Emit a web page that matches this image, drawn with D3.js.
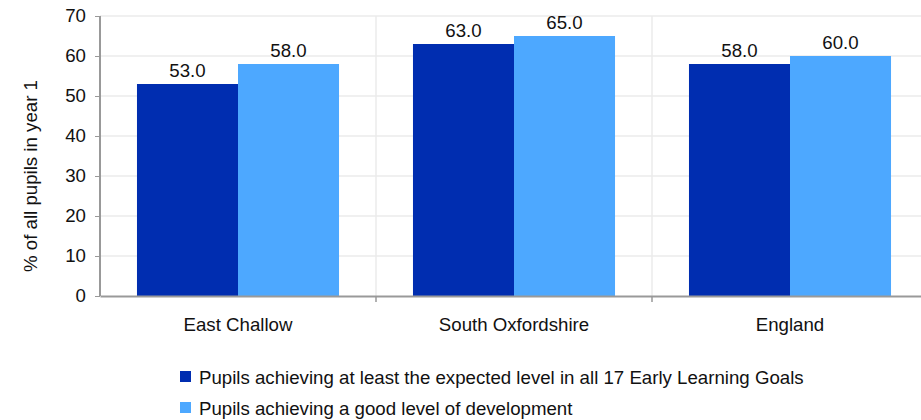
<!DOCTYPE html>
<html>
<head>
<meta charset="utf-8">
<script src="https://cdn.jsdelivr.net/npm/d3@7"></script>
<style>
  body { margin: 0; background: #fff; }
  text { font-family: "Liberation Sans", Arial, sans-serif; fill: #111; }
</style>
</head>
<body>
<div class="chart"></div>
<script>
var categories = ["East Challow", "South Oxfordshire", "England"];
var seriesNames = [
  "Pupils achieving at least the expected level in all 17 Early Learning Goals",
  "Pupils achieving a good level of development"
];
var expectedLevel = [53.0, 63.0, 58.0];
var goodLevel = [58.0, 65.0, 60.0];
var yTicks = [0, 10, 20, 30, 40, 50, 60, 70];
var colors = ["#002db0", "#4da8ff"];

var svgWidth = 921;
var svgHeight = 420;
var fontSize = "18.67px";
var margin = { top: 16, right: -7, bottom: 124, left: 100 };
var width = svgWidth - margin.left - margin.right;
var height = svgHeight - margin.top - margin.bottom;

var svg = d3.select(".chart")
  .append("svg")
  .attr("width", svgWidth)
  .attr("height", svgHeight);

var chartGroup = svg.append("g")
  .attr("transform", `translate(${margin.left}, ${margin.top})`);

var x0 = d3.scaleBand()
  .domain(categories)
  .range([0, width])
  .paddingInner(0)
  .paddingOuter(0);

var x1 = d3.scaleBand()
  .domain([0, 1])
  .range([0, x0.bandwidth()])
  .paddingInner(0)
  .paddingOuter(0.366);

var y = d3.scaleLinear()
  .domain([0, 70])
  .range([height, 0]);

// horizontal gridlines
chartGroup.append("g")
  .selectAll("line")
  .data(yTicks.filter(d => d > 0))
  .enter().append("line")
  .attr("x1", 0)
  .attr("x2", width)
  .attr("y1", d => y(d))
  .attr("y2", d => y(d))
  .attr("stroke", "#ebebeb")
  .attr("stroke-width", 1.5);

// vertical separators between categories
chartGroup.append("g")
  .selectAll("line")
  .data(categories.slice(1))
  .enter().append("line")
  .attr("x1", d => x0(d))
  .attr("x2", d => x0(d))
  .attr("y1", 0)
  .attr("y2", height)
  .attr("stroke", "#ebebeb")
  .attr("stroke-width", 1.5);

var seriesData = [expectedLevel, goodLevel];

var groups = chartGroup.selectAll(".cat")
  .data(categories)
  .enter().append("g")
  .attr("class", "cat")
  .attr("transform", d => `translate(${x0(d)}, 0)`);

groups.selectAll("rect")
  .data((d, i) => seriesData.map((s, k) => ({ k: k, v: s[i] })))
  .enter().append("rect")
  .attr("x", d => x1(d.k))
  .attr("y", d => y(d.v))
  .attr("width", x1.bandwidth())
  .attr("height", d => height - y(d.v))
  .attr("fill", d => colors[d.k]);

groups.selectAll(".val")
  .data((d, i) => seriesData.map((s, k) => ({ k: k, v: s[i] })))
  .enter().append("text")
  .attr("class", "val")
  .attr("x", d => x1(d.k) + x1.bandwidth() / 2)
  .attr("y", d => y(d.v) - 7)
  .attr("text-anchor", "middle")
  .attr("font-size", fontSize)
  .text(d => d.v.toFixed(1));

// y axis
var leftAxis = d3.axisLeft(y).tickValues(yTicks).tickSize(5).tickPadding(9);
var yAxis = chartGroup.append("g").call(leftAxis);
yAxis.selectAll("text").attr("font-size", fontSize).style("font-family", "Liberation Sans, Arial, sans-serif").attr("fill", "#111");
yAxis.selectAll("line").attr("stroke", "#999");
yAxis.select(".domain").attr("stroke", "#999").attr("stroke-width", 2).attr("d", `M0,0V${height}`);

// x axis
var bottomAxis = d3.axisBottom(x0).tickValues([]).tickSizeOuter(0);
var xAxis = chartGroup.append("g")
  .attr("transform", `translate(0, ${height})`)
  .call(bottomAxis);
xAxis.select(".domain").attr("stroke", "#999").attr("stroke-width", 2);

xAxis.selectAll(".sep")
  .data(categories.slice(1))
  .enter().append("line")
  .attr("x1", d => x0(d))
  .attr("x2", d => x0(d))
  .attr("y1", 0)
  .attr("y2", 6)
  .attr("stroke", "#999")
  .attr("stroke-width", 1.5);

xAxis.selectAll(".cl")
  .data(categories)
  .enter().append("text")
  .attr("x", d => x0(d) + x0.bandwidth() / 2)
  .attr("y", 35)
  .attr("text-anchor", "middle")
  .attr("font-size", fontSize)
  .text(d => d);

// y axis title
svg.append("text")
  .attr("transform", "translate(37, 176) rotate(-90)")
  .attr("text-anchor", "middle")
  .attr("font-size", fontSize)
  .text("% of all pupils in year 1");

// legend
var legend = svg.append("g")
  .attr("transform", "translate(180, 371)");

var items = legend.selectAll("g")
  .data(seriesNames)
  .enter().append("g")
  .attr("transform", (d, i) => `translate(0, ${i * 31})`);

items.append("rect")
  .attr("width", 11)
  .attr("height", 11)
  .attr("fill", (d, i) => colors[i]);

items.append("text")
  .attr("x", 19)
  .attr("y", 13)
  .attr("font-size", fontSize)
  .text(d => d);
</script>
</body>
</html>
